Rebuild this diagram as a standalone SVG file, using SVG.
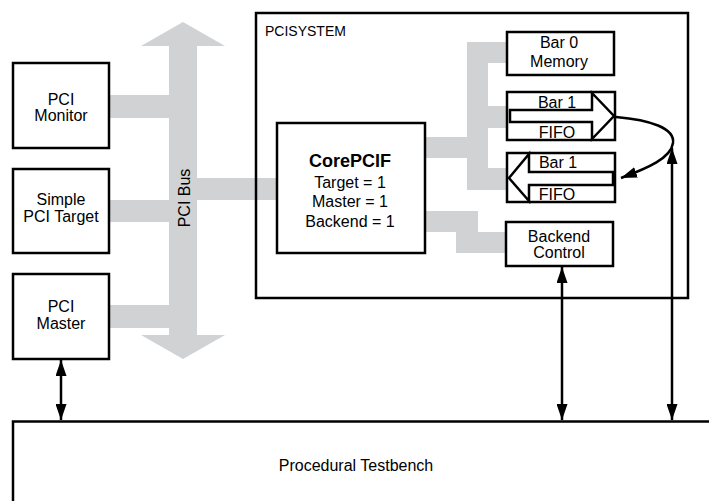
<svg xmlns="http://www.w3.org/2000/svg" width="709" height="501" viewBox="0 0 709 501">
<style>
.box{fill:#fff;stroke:#000;stroke-width:2.5}
.frame{fill:none;stroke:#000;stroke-width:2.5}
.bus{fill:#d1d2d4;stroke:none}
.t{font-family:"Liberation Sans",Arial,sans-serif;font-size:16px;fill:#000;text-anchor:middle}
.b{font-weight:bold;font-size:18px}
.l{text-anchor:start;font-size:14px}
.ln{fill:none;stroke:#000;stroke-width:2.5}
.arr{fill:#fff;stroke:#000;stroke-width:2.5;stroke-linejoin:miter}
</style>
<defs>
<marker id="ah" viewBox="0 0 16 11" refX="16" refY="5.5" markerWidth="16" markerHeight="11" markerUnits="userSpaceOnUse" orient="auto-start-reverse">
<path d="M0,0 L16,5.5 L0,11 z" fill="#000"/>
</marker>
</defs>
<rect width="709" height="501" fill="#fff"/>

<g id="pci-bus">
<polygon class="bus" points="183,22 225,46 197,46 197,335 225,335 183,359 141,335 169,335 169,46 141,46"/>
<rect class="bus" x="109" y="95" width="60" height="23"/>
<rect class="bus" x="109" y="200" width="60" height="22"/>
<rect class="bus" x="109" y="305" width="60" height="23"/>
<rect class="bus" x="197" y="178" width="80" height="22"/>
<text class="t" transform="translate(190,198) rotate(-90)">PCI Bus</text>
</g>

<g id="internal-bus">
<rect class="bus" x="425" y="137" width="42" height="21"/>
<rect class="bus" x="467" y="42" width="21" height="148"/>
<rect class="bus" x="467" y="42" width="40" height="21"/>
<rect class="bus" x="488" y="106" width="20" height="22"/>
<rect class="bus" x="488" y="168" width="20" height="22"/>
<polygon class="bus" points="425,211 478,211 478,232 506,232 506,253 456,253 456,232 425,232"/>
</g>

<g id="pcisystem">
<rect class="frame" x="256" y="13" width="432" height="285"/>
<text class="t l" x="265" y="36">PCISYSTEM</text>
</g>

<g id="pci-monitor">
<rect class="box" x="13" y="63" width="96" height="85"/>
<text class="t" x="61" y="105">PCI</text>
<text class="t" x="61" y="121">Monitor</text>
</g>

<g id="simple-pci-target">
<rect class="box" x="13" y="169" width="96" height="84"/>
<text class="t" x="61" y="205">Simple</text>
<text class="t" x="61" y="222">PCI Target</text>
</g>

<g id="pci-master">
<rect class="box" x="13" y="274" width="96" height="85"/>
<text class="t" x="61" y="312">PCI</text>
<text class="t" x="61" y="329">Master</text>
</g>

<g id="corepcif">
<rect class="box" x="277" y="123" width="148" height="130"/>
<text class="t b" x="350" y="167">CorePCIF</text>
<text class="t" x="350" y="188">Target = 1</text>
<text class="t" x="350" y="207">Master = 1</text>
<text class="t" x="350" y="227">Backend = 1</text>
</g>

<g id="bar0-memory">
<rect class="box" x="507" y="32" width="107" height="43"/>
<text class="t" x="559" y="48">Bar 0</text>
<text class="t" x="559" y="67">Memory</text>
</g>

<g id="bar1-fifo-in">
<rect class="box" x="507" y="92" width="108" height="48"/>
<polygon class="arr" points="510,110 592,110 592,93 614,116 592,139 592,122 510,122"/>
<text class="t" x="557" y="108">Bar 1</text>
<text class="t" x="557" y="138">FIFO</text>
</g>

<g id="bar1-fifo-out">
<rect class="box" x="507" y="153" width="108" height="49"/>
<polygon class="arr" points="613,172 529,172 529,154 509,178 529,201 529,185 613,185"/>
<text class="t" x="558" y="168">Bar 1</text>
<text class="t" x="557" y="200">FIFO</text>
</g>

<g id="backend-control">
<rect class="box" x="506" y="222" width="107" height="44"/>
<text class="t" x="559" y="242">Backend</text>
<text class="t" x="559" y="258">Control</text>
</g>

<g id="procedural-testbench">
<rect class="box" x="13" y="421.5" width="720" height="100"/>
<text class="t" x="356" y="471">Procedural Testbench</text>
</g>

<g id="connectors">
<line class="ln" x1="61" y1="360" x2="61" y2="420" marker-start="url(#ah)" marker-end="url(#ah)"/>
<line class="ln" x1="562" y1="267" x2="562" y2="420" marker-start="url(#ah)" marker-end="url(#ah)"/>
<line class="ln" x1="672" y1="148" x2="672" y2="420" marker-start="url(#ah)" marker-end="url(#ah)"/>
<path class="ln" d="M616,117 C650,120 675,128 673,143 C671,158 648,168 621,178" marker-end="url(#ah)"/>
</g>
</svg>
